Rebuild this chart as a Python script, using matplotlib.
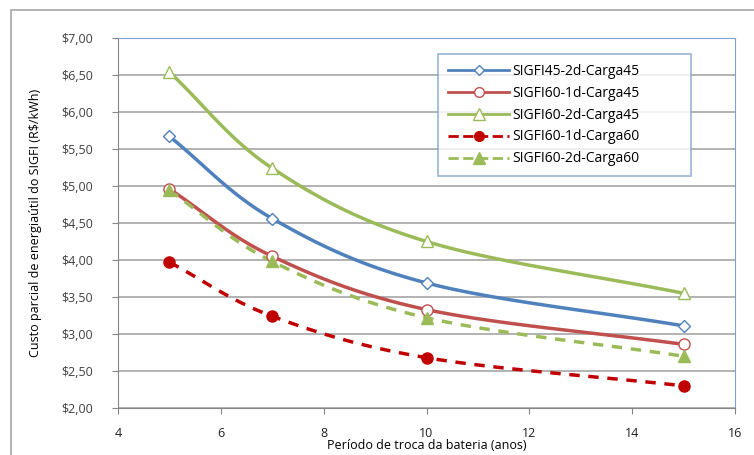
import matplotlib
matplotlib.use('Agg')
import matplotlib.pyplot as plt
import numpy as np

# data to plot
periodo = [5, 7, 10, 15]
s45_2d_c45 = [5.67, 4.56, 3.69, 3.11]
s60_1d_c45 = [4.96, 4.05, 3.33, 2.86]
s60_2d_c45 = [6.54, 5.24, 4.25, 3.55]
s60_1d_c60 = [3.97, 3.24, 2.68, 2.30]
s60_2d_c60 = [4.94, 3.98, 3.22, 2.70]
yticks = np.arange(2.0, 7.01, 0.5)


def smooth(x, y, n=40):
    # catmull-rom style smoothing, like excel's smoothed lines
    x = np.asarray(x, float)
    y = np.asarray(y, float)
    px = np.concatenate([[2*x[0]-x[1]], x, [2*x[-1]-x[-2]]])
    py = np.concatenate([[2*y[0]-y[1]], y, [2*y[-1]-y[-2]]])
    xs, ys = [], []
    for i in range(1, len(px) - 2):
        t = np.linspace(0, 1, n)
        for arr, out in ((px, xs), (py, ys)):
            p0, p1, p2, p3 = arr[i-1], arr[i], arr[i+1], arr[i+2]
            c1 = p1 + (p2 - p0) / 6
            c2 = p2 - (p3 - p1) / 6
            out.extend((1-t)**3*p1 + 3*(1-t)**2*t*c1 + 3*(1-t)*t**2*c2 + t**3*p2)
    return np.array(xs), np.array(ys)


plt.rcParams['font.family'] = ['Open Sans', 'DejaVu Sans']
fig = plt.figure(figsize=(7.54, 4.55), dpi=100)
ax = fig.add_axes([0.1565, 0.1033, 0.8183, 0.8132])

# outer chart border
fig.add_artist(plt.Rectangle((11/754, -0.1), 2, 1 - 10/455 + 0.1,
                             transform=fig.transFigure, fill=False,
                             edgecolor='#a6a6a6', lw=1.2))

series = [
    (s45_2d_c45, 'SIGFI45-2d-Carga45', '#4f81bd', '-', 'D', 'none', 6),
    (s60_1d_c45, 'SIGFI60-1d-Carga45', '#c0504d', '-', 'o', 'none', 8),
    (s60_2d_c45, 'SIGFI60-2d-Carga45', '#9bbb59', '-', '^', 'none', 9),
    (s60_1d_c60, 'SIGFI60-1d-Carga60', '#c00000', '--', 'o', '#c00000', 8),
    (s60_2d_c60, 'SIGFI60-2d-Carga60', '#9bbb59', '--', '^', '#9bbb59', 9),
]
for vals, lab, col, ls, mk, fc, ms in series:
    sx, sy = smooth(periodo, vals)
    ax.plot(sx, sy, color=col, ls=ls, lw=2.5, dashes=(3, 2.5) if ls == '--' else (None, None), zorder=3)
    ax.plot(periodo, vals, ls='none', marker=mk, ms=ms, mfc=fc if fc != 'none' else 'white',
            mec=col, mew=1.0, zorder=4)
    ax.plot([], [], color=col, ls=ls, lw=2, marker=mk, ms=ms - 1, mfc=fc if fc != 'none' else 'white',
            mec=col, label=lab)

ax.set_xlim(4, 16)
ax.set_ylim(2, 7)
ax.set_xticks(range(4, 17, 2))
ax.set_yticks(yticks)
ax.set_yticklabels([('$%.2f' % v).replace('.', ',') for v in yticks])
ax.grid(axis='y', color='#a6a6a6', lw=1.2)
ax.set_axisbelow(True)
for s in ('left', 'bottom'):
    ax.spines[s].set_color('#868686')
for s in ('top', 'right'):
    ax.spines[s].set_color('#7fa3d0')
ax.tick_params(direction='out', length=4, colors='#868686', labelcolor='#404040', labelsize=9)
ax.tick_params(axis='y', pad=14)
ax.tick_params(axis='x', labelcolor='#202020', pad=10)

ax.set_xlabel('Período de troca da bateria (anos)', fontsize=9, labelpad=-1)
ax.set_ylabel('Custo parcial de energiaútil do SIGFI (R$/kWh)', fontsize=9, labelpad=14)

leg = ax.legend(loc='upper left', bbox_to_anchor=(0.519, 0.63, 0.41, 0.327), mode='expand',
                fontsize=10, frameon=True, fancybox=False, handlelength=4.4, borderpad=0.7,
                labelspacing=0.5, handletextpad=0.2, borderaxespad=0)
leg.get_frame().set_edgecolor('#7fa3d0')
leg.get_frame().set_linewidth(1.2)

plt.savefig('out.png', dpi=100)
